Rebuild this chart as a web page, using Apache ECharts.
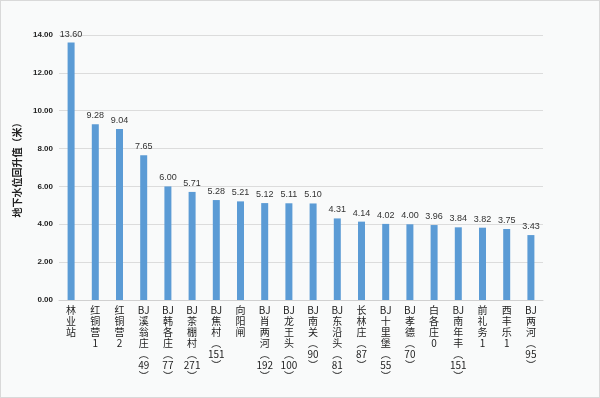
<!DOCTYPE html>
<html>
<head>
<meta charset="utf-8">
<script src="https://cdn.jsdelivr.net/npm/echarts@6/dist/echarts.min.js"></script>
<style>
html, body { margin: 0; padding: 0; background: #fff; }
#chart { width: 598px; height: 396px; border: 1px solid #d9d9d9; background: #f9fafa; }
</style>
</head>
<body>
<div id="chart"></div>
<script>
const stations = ['林业站', '红铜营1', '红铜营2', 'BJ溪翁庄（49）', 'BJ韩各庄（77）', 'BJ茶棚村（271）',
    'BJ焦村（151）', '向阳闸', 'BJ肖两河（192）', 'BJ龙王头（100）', 'BJ南关（90）', 'BJ东沿头（81）',
    '长林庄（87）', 'BJ十里堡（55）', 'BJ孝德（70）', '白各庄0', 'BJ南年丰（151）', '前礼务1', '西丰乐1', 'BJ两河（95）'];
const riseValues = [13.60, 9.28, 9.04, 7.65, 6.00, 5.71, 5.28, 5.21, 5.12, 5.11, 5.10, 4.31,
    4.14, 4.02, 4.00, 3.96, 3.84, 3.82, 3.75, 3.43];

// stack label text vertically, keep runs of latin letters / digits on one line
function verticalLabel(text) {
    const parts = text.match(/[A-Za-z0-9]+|./g) || [];
    return parts.map(function (p) {
        if (p === '（') return '︵';
        if (p === '）') return '︶';
        return p;
    }).join('\n');
}

const chart = echarts.init(document.getElementById('chart'));
chart.setOption({
    animation: false,
    grid: { left: 58, right: 56, top: 34, bottom: 97 },
    xAxis: {
        type: 'category',
        data: stations,
        axisTick: { show: false },
        axisLine: { lineStyle: { color: '#d0d0d0' } },
        axisLabel: {
            interval: 0,
            formatter: verticalLabel,
            verticalAlign: 'top',
            fontSize: 10,
            lineHeight: 11,
            color: '#222',
            margin: 5,
            fontFamily: '"Noto Sans CJK SC", sans-serif'
        }
    },
    yAxis: {
        type: 'value',
        min: 0,
        max: 14,
        interval: 2,
        name: '地下水位回升值（米）',
        nameLocation: 'middle',
        nameRotate: 90,
        nameGap: 37,
        nameTextStyle: { fontSize: 10, color: '#222', fontWeight: 'bold', fontFamily: '"Noto Sans CJK SC", sans-serif' },
        axisLabel: {
            formatter: function (v) { return v.toFixed(2); },
            fontSize: 8,
            fontWeight: 'bold',
            color: '#222',
            margin: 6
        },
        splitLine: { lineStyle: { color: '#dcdcdc' } }
    },
    series: [
        {
            type: 'bar',
            data: riseValues,
            barWidth: 7,
            itemStyle: { color: '#5b9bd5' },
            label: {
                show: true,
                position: 'top',
                distance: 4,
                fontSize: 9,
                color: '#333',
                formatter: function (p) { return p.value.toFixed(2); }
            }
        }
    ]
});
</script>
</body>
</html>
